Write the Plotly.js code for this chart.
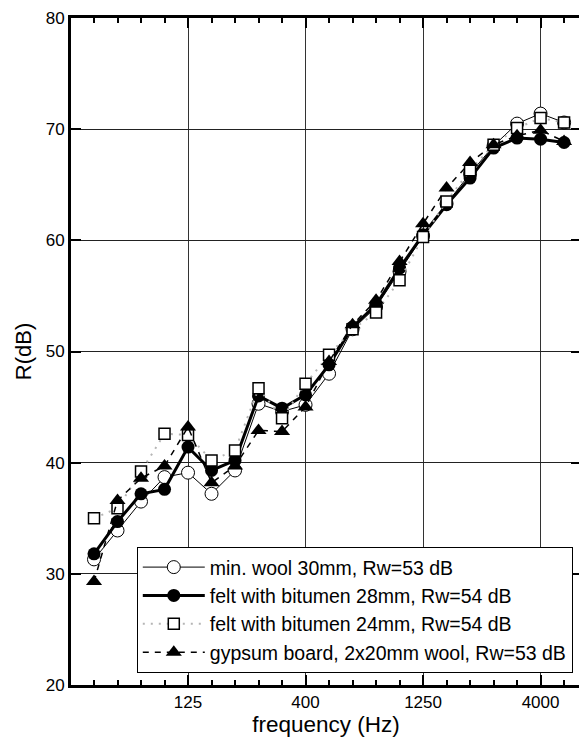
<!DOCTYPE html>
<html>
<head>
<meta charset="utf-8">
<script src="https://cdn.plot.ly/plotly-3.0.1.min.js"></script>
<style>html,body{margin:0;padding:0;overflow:hidden;background:#fff}</style>
</head>
<body>
<div id="chart" style="width:584px;height:742px"></div>
<script>
// third-octave bands 50 Hz ... 5000 Hz
var bands = [50,63,80,100,125,160,200,250,315,400,500,630,800,1000,1250,1600,2000,2500,3150,4000,5000];
var tickLabels = ['125','400','1250','4000'];
var tickBands = [125,400,1250,4000];

var minWool30   = [31.3,33.9,36.5,38.7,39.1,37.2,39.3,45.3,44.6,45.2,48.0,52.0,54.0,57.2,60.4,63.3,66.0,68.5,70.5,71.4,70.6];
var felt28      = [31.8,34.7,37.2,37.6,41.4,39.3,40.2,46.0,44.9,46.1,48.8,52.2,54.2,57.5,60.5,63.2,65.6,68.3,69.2,69.1,68.8];
var felt24      = [35.0,35.9,39.2,42.6,42.5,40.2,41.1,46.7,44.0,47.1,49.7,52.0,53.5,56.4,60.3,63.5,66.3,68.6,70.1,71.0,70.6];
var gypsum      = [29.3,36.6,38.6,39.7,43.2,38.2,39.7,42.9,42.8,45.0,49.1,52.4,54.6,58.1,61.5,64.7,67.0,68.6,69.4,69.9,68.9];

var idx = bands.map(function(b, i){ return i; });
var tickIdx = tickBands.map(function(b){ return bands.indexOf(b); });

var traces = [
  {x: idx, y: minWool30, name: 'min. wool 30mm, Rw=53 dB', mode: 'lines+markers',
   line: {color: '#000', width: 1},
   marker: {symbol: 'circle', size: 13, color: '#fff', line: {color: '#000', width: 1}}},
  {x: idx, y: felt28, name: 'felt with bitumen 28mm, Rw=54 dB', mode: 'lines+markers',
   line: {color: '#000', width: 3},
   marker: {symbol: 'circle', size: 13, color: '#000', line: {color: '#000', width: 0}}},
  {x: idx, y: felt24, name: 'felt with bitumen 24mm, Rw=54 dB', mode: 'lines+markers',
   line: {color: '#b5b5b5', width: 2, dash: '2px,6px'},
   marker: {symbol: 'square', size: 11, color: '#fff', line: {color: '#000', width: 1.5}}},
  {x: idx, y: gypsum, name: 'gypsum board, 2x20mm wool, Rw=53 dB', mode: 'lines+markers',
   line: {color: '#000', width: 1.5, dash: '6px,6px'},
   marker: {symbol: 'triangle-up', size: 14, color: '#000', line: {color: '#000', width: 0}}}
];

var font = 'Liberation Sans, Arial, sans-serif';
var layout = {
  width: 584, height: 742,
  margin: {l: 71, r: 3, t: 18, b: 57},
  paper_bgcolor: '#fff', plot_bgcolor: '#fff',
  showlegend: true,
  font: {family: font, color: '#000', size: 17},
  xaxis: {
    range: [-0.979, 20.72],
    tickmode: 'array', tickvals: tickIdx, ticktext: tickLabels,
    ticks: 'inside', ticklen: 10, tickwidth: 2, tickcolor: '#000',
    minor: {tickmode: 'linear', tick0: 0, dtick: 1, ticks: 'inside', ticklen: 5, tickwidth: 2, tickcolor: '#000', showgrid: false},
    showgrid: true, gridcolor: '#333', gridwidth: 1,
    showline: true, linewidth: 3, linecolor: '#000', mirror: 'allticks',
    zeroline: false,
    tickfont: {size: 17, family: font},
    title: {text: 'frequency (Hz)', font: {size: 22.5, family: font}, standoff: 0}
  },
  yaxis: {
    range: [20, 80], dtick: 10, tick0: 20,
    ticks: 'inside', ticklen: 10, tickwidth: 2, tickcolor: '#000',
    showgrid: true, gridcolor: '#222', gridwidth: 1,
    showline: true, linewidth: 3, linecolor: '#000', mirror: 'allticks',
    zeroline: false,
    tickfont: {size: 17, family: font},
    title: {text: 'R(dB)', font: {size: 22, family: font}, standoff: 8}
  },
  legend: {
    x: 0.129, y: 0.207, xanchor: 'left', yanchor: 'top',
    bgcolor: '#fff', bordercolor: '#000', borderwidth: 1,
    font: {size: 19.5, family: font, color: '#000'},
    itemwidth: 62, tracegroupgap: 0
  }
};

Plotly.newPlot('chart', traces, layout, {displayModeBar: false, staticPlot: true});
</script>
</body>
</html>
